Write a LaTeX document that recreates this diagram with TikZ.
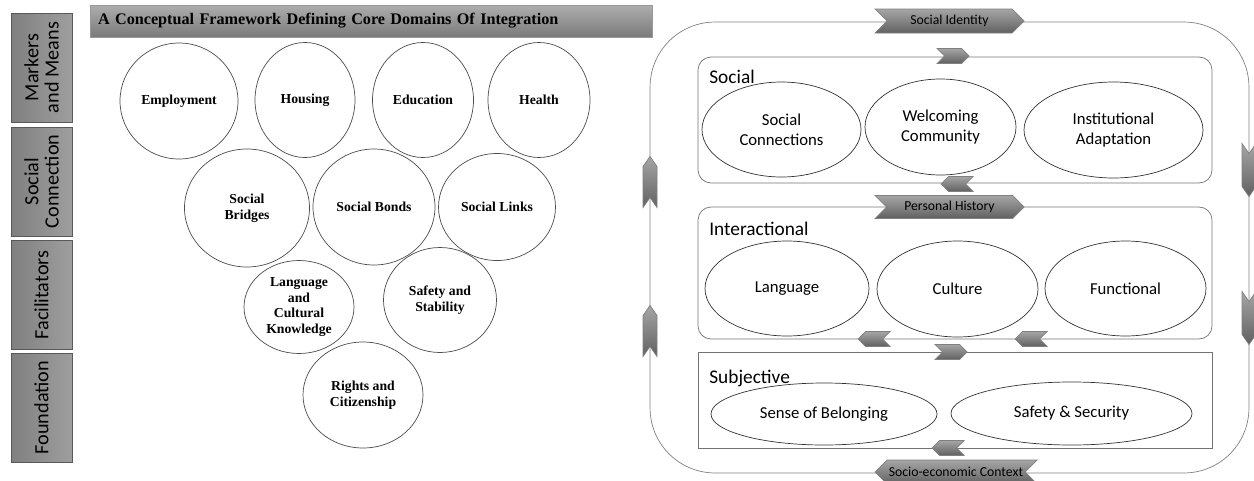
\documentclass[tikz,border=0pt]{standalone}
\usepackage{fontspec}
\setmainfont{Carlito}
\newfontfamily\timesbf{Liberation Serif}
\usetikzlibrary{positioning,shapes.geometric,shapes.symbols}

\begin{document}
\begin{tikzpicture}[x=0.02cm,y=-0.02cm]
        \tikzset{bar/.style={draw=black!65,
                left color=black!50, right color=black!38,
                rotate=90,
                align=center,
                minimum width=2.18cm,
                minimum height=1.22cm,
                inner sep=0pt,
                font=\fontsize{11.5}{11.5}\selectfont
            },
            ring/.style 2 args={draw=black!70,
                ellipse,
                align=center,
                inner sep=0pt,
                minimum width=#1*0.02cm,
                minimum height=#2*0.02cm,
                font=\timesbf\bfseries\fontsize{7.8}{9}\selectfont
            },
            bub/.style 2 args={draw=black!80,
                ellipse,
                align=center,
                inner sep=0pt,
                minimum width=#1*0.02cm,
                minimum height=#2*0.02cm,
                font=\fontsize{9.5}{11.4}\selectfont
            },
            zone/.style 2 args={draw=black!55,
                rounded corners=0.26cm,
                minimum width=#1*0.02cm,
                minimum height=#2*0.02cm
            },
            chev/.style n args={4}{signal,
                signal to=#1,
                signal from=#2,
                draw=black!50,
                top color=black!35,
                bottom color=black!62,
                inner sep=0pt,
                minimum width=#3*0.02cm,
                minimum height=#4*0.02cm,
                font=\fontsize{7.8}{8}\selectfont
            },
            lbl/.style={anchor=base west, inner sep=0pt,
                font=\fontsize{11}{12}\selectfont}
        }
\useasboundingbox (0,0) rectangle (1254,480);

%% side bars
\node [bar] (markers) at (41.5,67.5) {Markers\\and Means};
\node [bar] (connect) at (41.5,181.5) {Social\\Connection};
\node [bar] (facil) at (41.5,295) {Facilitators};
\node [bar] (found) at (41.5,407.5) {Foundation};

%% title
\node [draw=black!40, top color=black!32, bottom color=black!52,
    minimum height=0.64cm, inner xsep=0.16cm, text width=10.92cm,
    align=left, font=\timesbf\bfseries\fontsize{9.2}{10}\selectfont]
    (title) at (371,21)
    {A Conceptual Framework Defining Core Domains Of Integration};

%% domains
\node [ring={118}{116}] (employ) at (179,101) {Employment};
\node [ring={100}{115}] (housing) at (305,100) {Housing};
\node [ring={101}{115}] (educ) at (423,100) {Education};
\node [ring={102}{115}] (health) at (539,100) {Health};
\node [ring={125}{118}] (bridges) at (247,208) {Social\\Bridges};
\node [ring={122}{116}] (bonds) at (374,207) {Social Bonds};
\node [ring={117}{107}] (links) at (497,207) {Social Links};
\node [ring={110}{93}] (langcult) at (299,307)
    {Language\\and\\Cultural\\Knowledge};
\node [ring={113}{105}] (safestab) at (440,300) {Safety and\\Stability};
\node [ring={120}{106}] (rights) at (363,395) {Rights and\\Citizenship};

%% outer loop and zones
\node [draw=black!50, rounded corners=1.3cm,
    minimum width=11.98cm, minimum height=9.02cm] (loop) at (949.5,247.5) {};
\node [zone={514}{126}] (social) at (955,120) {};
\node [zone={514}{132}] (inter) at (955,273) {};
\node [zone={514}{96}, sharp corners] (subj) at (955,400) {};

\node [lbl] (social_l) at (709,83) {Social};
\node [lbl] (inter_l) at (709,235) {Interactional};
\node [lbl] (subj_l) at (709,383) {Subjective};

\node [bub={159}{95}] (conn) at (781.5,129.5) {Social\\Connections};
\node [bub={151}{96}] (welcome) at (940.5,127) {Welcoming\\Community};
\node [bub={179}{96}] (instit) at (1113.5,130) {Institutional\\Adaptation};
\node [bub={164}{95}] (lang) at (787,288.5) {Language};
\node [bub={161}{96}] (culture) at (957.5,289) {Culture};
\node [bub={161}{95}] (funct) at (1125.5,288.5) {Functional};
\node [bub={226}{62}] (belong) at (824,414) {Sense of Belonging};
\node [bub={241}{63}] (safesec) at (1071.5,413.5) {Safety \& Security};

%% chevrons
\node [chev={east}{west}{149}{24}] (identity) at (949.5,21) {Social Identity};
\node [chev={east}{west}{149}{23}] (history) at (949.5,207) {Personal History};
\node [chev={west}{east}{162}{24}] (context) at (956,472) {Socio-economic Context};
\node [chev={east}{west}{32}{15}] (c1) at (953,56) {};
\node [chev={west}{east}{32}{15}] (c2) at (957,184) {};
\node [chev={west}{east}{32}{15}] (c3) at (874,339) {};
\node [chev={west}{east}{32}{15}] (c4) at (1031,339) {};
\node [chev={east}{west}{32}{15}] (c5) at (951,352) {};
\node [chev={west}{east}{32}{15}] (c6) at (948,448) {};
\node [chev={north}{south}{14}{31}, signal pointer angle=70] (up1) at (650,182) {};
\node [chev={north}{south}{14}{31}, signal pointer angle=70] (up2) at (650,331) {};
\node [chev={south}{north}{14}{33}, signal pointer angle=70] (down1) at (1249,170) {};
\node [chev={south}{north}{14}{33}, signal pointer angle=70] (down2) at (1249,318) {};
\end{tikzpicture}
\end{document}
